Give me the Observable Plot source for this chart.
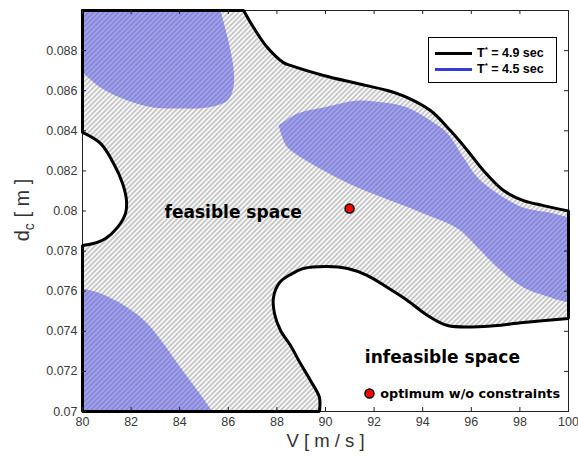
<!DOCTYPE html>
<html><head><meta charset="utf-8">
<script src="https://cdn.jsdelivr.net/npm/d3@7"></script>
<script src="https://cdn.jsdelivr.net/npm/@observablehq/plot@0.6"></script>
<style>
body{margin:0;background:#fff;}
#wrap{position:relative;width:578px;height:457px;overflow:hidden;}
.legend{position:absolute;left:428px;top:37px;width:127px;height:44px;border:1px solid #000;background:#fff;font:bold 12.5px "Liberation Sans",Arial,sans-serif;color:#000;}
.legend .row{position:absolute;left:6px;height:14px;display:flex;align-items:center;}
.legend .sw{width:37px;height:3px;margin-right:5px;}
.legend sup{font-size:8px;vertical-align:5px;line-height:0;}
</style></head><body><div id="wrap"></div>
<script>
// axes
const xDomain = [80, 100];
const yDomain = [0.07, 0.09];
const xTicks = [80, 82, 84, 86, 88, 90, 92, 94, 96, 98, 100];
const yTicks = [0.07, 0.072, 0.074, 0.076, 0.078, 0.08, 0.082, 0.084, 0.086, 0.088];

// T* = 4.9 sec contour pieces, [V, d]
const contourTop = [[86.63,0.09],[87.04,0.08915],[87.61,0.08815],[88.27,0.0874],[88.56,0.08726],[89.92,0.08676],[91.32,0.08636],[92.55,0.08601],[93.37,0.08566],[94.32,0.08501],[95.14,0.08401],[95.84,0.08302],[96.5,0.08202],[97.33,0.08102],[98.15,0.08052],[98.97,0.08027],[100,0.08]];
const contourLeft = [[80,0.08392],[80.74,0.08337],[81.28,0.08237],[81.65,0.08137],[81.81,0.08052],[81.77,0.07988],[81.44,0.07918],[80.95,0.07863],[80.45,0.07838],[80,0.07828]];
const contourBottom = [[89.75,0.07],[89.75,0.0707],[89.38,0.07155],[88.97,0.07239],[88.56,0.07329],[88.15,0.07404],[87.9,0.07489],[87.86,0.07569],[88.11,0.07643],[88.56,0.07683],[89.09,0.07713],[90.08,0.07723],[90.91,0.07713],[91.73,0.07678],[92.55,0.07618],[93.37,0.07554],[94.2,0.07479],[95.02,0.07429],[96.5,0.07424],[98.15,0.07444],[100,0.07464]];

// T* = 4.5 sec regions, [V, d]
const blueTopLeft = [[85.68,0.09],[85.97,0.08865],[86.21,0.08716],[86.21,0.08616],[85.97,0.08551],[85.14,0.08516],[84.03,0.08511],[82.92,0.08516],[81.85,0.08551],[80.74,0.08616],[80,0.08691]];
const blueMidUpper = [[88.07,0.08426],[88.85,0.08486],[89.92,0.08516],[91.32,0.08551],[92.39,0.08541],[93.37,0.08516],[94.32,0.08451],[95.02,0.08387],[95.68,0.08267],[96.26,0.08167],[97.08,0.08087],[98.15,0.08017],[99.38,0.07988],[100,0.07968]];
const blueMidLower = [[100,0.07544],[99.38,0.07564],[98.15,0.07618],[97.08,0.07718],[96.26,0.07818],[95.43,0.07913],[94.03,0.07988],[92.67,0.08052],[91.32,0.08117],[89.92,0.08202],[88.48,0.08312],[88.27,0.08352]];
const blueBottomLeft = [[80,0.07613],[80.74,0.07589],[81.85,0.07519],[82.67,0.07439],[83.33,0.07339],[84.03,0.07219],[84.73,0.07105],[85.35,0.07]];

// points and annotations
const optimum = [[90.99, 0.08012]];
const keyDot = [[91.81, 0.0709]];
const regionNotes = [{V: 86.2, d: 0.07993, text: "feasible space"}, {V: 94.81, d: 0.07269, text: "infeasible space"}];
const keyNote = [{V: 92.25, d: 0.0709, text: "optimum w/o constraints"}];
const legendItems = [{label: "4.9 sec", color: "#000"}, {label: "4.5 sec", color: "#3a3ad8"}];

// polygon assembly (duplicated end points keep frame edges straight)
const TL = [xDomain[0], yDomain[1]], BL = [xDomain[0], yDomain[0]];
const dup = a => [a[0], ...a, a[a.length - 1]];
const rev = a => a.slice().reverse();
const feasible = [TL, TL, ...dup(contourTop), ...dup(rev(contourBottom)), BL, BL, ...dup(rev(contourLeft)), TL, TL];
const blueA = [TL, TL, ...dup(blueTopLeft), TL];
const blueB = [...blueMidUpper, blueMidUpper[blueMidUpper.length-1], blueMidLower[0], ...blueMidLower, blueMidUpper[0]];
const blueC = [...dup(blueBottomLeft), BL, BL];

const P = {x: d => d[0], y: d => d[1], curve: "catmull-rom"};
const W = 578, H = 457, mt = 10, mb = 46, ml = 82, mr = 10;
const fh = H - mt - mb;

const plot = Plot.plot({
  width: W, height: H, marginTop: mt, marginBottom: mb, marginLeft: ml, marginRight: mr,
  x: {domain: xDomain}, y: {domain: yDomain},
  style: {fontFamily: "'Liberation Sans', Arial, sans-serif", fontSize: "12.5px", color: "#3a3a3a", background: "#fff"},
  marks: [
    Plot.line(feasible, {...P, fill: "url(#hatchGray)", stroke: "none"}),
    Plot.line(blueA, {...P, fill: "url(#hatchBlue)", stroke: "none"}),
    Plot.line(blueB, {...P, fill: "url(#hatchBlue)", stroke: "none"}),
    Plot.line(blueC, {...P, fill: "url(#hatchBlue)", stroke: "none"}),
    Plot.frame({stroke: "#222", strokeWidth: 1}),
    Plot.line(feasible, {...P, fill: "none", stroke: "#000", strokeWidth: 3, strokeLinecap: "square", strokeLinejoin: "miter"}),
    Plot.tickX(xTicks, {x: d => d, insetTop: fh - 4, stroke: "#222"}),
    Plot.tickX(xTicks, {x: d => d, insetBottom: fh - 4, stroke: "#222"}),
    Plot.tickY(yTicks, {y: d => d, insetRight: (W - ml - mr) - 4, stroke: "#222"}),
    Plot.tickY(yTicks, {y: d => d, insetLeft: (W - ml - mr) - 4, stroke: "#222"}),
    Plot.axisX({ticks: xTicks, tickSize: 0, tickPadding: 6, label: null, tickFormat: d => String(d)}),
    Plot.axisY({ticks: yTicks, tickSize: 0, tickPadding: 5, label: null, tickFormat: d => String(d)}),
    Plot.text(["V [ m / s ]"], {frameAnchor: "bottom", dy: 35, fontSize: 18.5, fill: "#333"}),
    Plot.text(regionNotes, {x: "V", y: "d", text: "text", fontSize: 17, fontWeight: "bold", fontFamily: "'DejaVu Sans', sans-serif", fill: "#000"}),
    Plot.text(keyNote, {x: "V", y: "d", text: "text", textAnchor: "start", fontSize: 12.8, fontWeight: "bold", fontFamily: "'DejaVu Sans', sans-serif", fill: "#000"}),
    Plot.dot(optimum, {x: d => d[0], y: d => d[1], r: 4.5, fill: "#f00", stroke: "#000", strokeWidth: 1.5}),
    Plot.dot(keyDot, {x: d => d[0], y: d => d[1], r: 4.5, fill: "#f00", stroke: "#000", strokeWidth: 1.5})
  ]
});

// hatch patterns
const ns = "http://www.w3.org/2000/svg";
const defs = document.createElementNS(ns, "defs");
defs.innerHTML = `
<pattern id="hatchGray" width="5" height="5" patternUnits="userSpaceOnUse">
  <rect width="5" height="5" fill="#fff"/>
  <path d="M-1,1 L1,-1 M0,5 L5,0 M4,6 L6,4" stroke="#acacac" stroke-width="1.35"/>
</pattern>
<pattern id="hatchBlue" width="5" height="5" patternUnits="userSpaceOnUse">
  <rect width="5" height="5" fill="#a6a6ee"/>
  <path d="M-1,1 L1,-1 M0,5 L5,0 M4,6 L6,4" stroke="#7a7ad0" stroke-width="1.4"/>
</pattern>`;
plot.insertBefore(defs, plot.firstChild);

// y-axis label with subscript
const yl = document.createElementNS(ns, "text");
yl.setAttribute("transform", "translate(29,210) rotate(-90)");
yl.setAttribute("text-anchor", "middle");
yl.setAttribute("font-size", "20");
yl.setAttribute("fill", "#333");
yl.innerHTML = `d<tspan dy="5" font-size="14">c</tspan><tspan dy="-5"> [ m ]</tspan>`;
plot.appendChild(yl);

const wrap = document.getElementById("wrap");
wrap.appendChild(plot);

// legend
const lg = document.createElement("div");
lg.className = "legend";
legendItems.forEach((it, i) => {
  const row = document.createElement("div");
  row.className = "row";
  row.style.top = (8 + i * 16) + "px";
  row.innerHTML = `<div class="sw" style="background:${it.color}"></div><span>T<sup>*</sup> = ${it.label}</span>`;
  lg.appendChild(row);
});
wrap.appendChild(lg);
</script></body></html>
